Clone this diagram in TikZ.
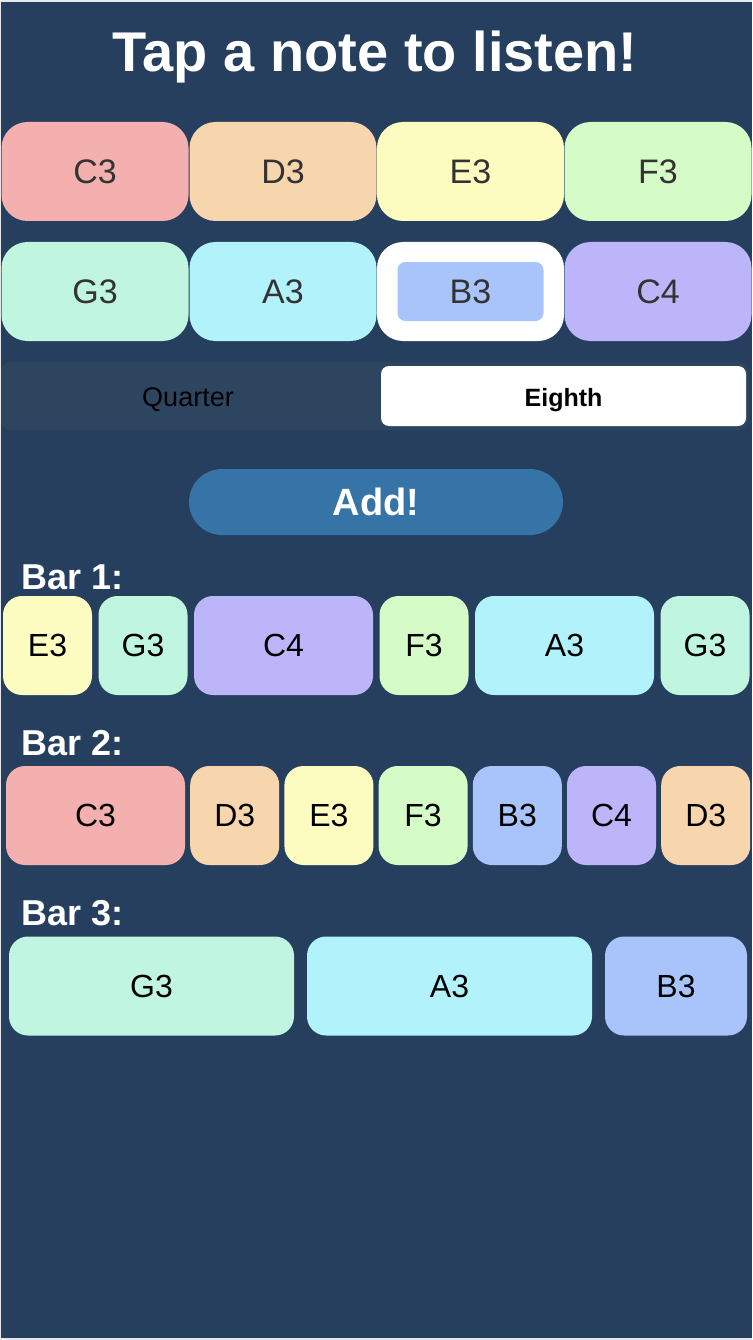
\documentclass[tikz,border=0pt]{standalone}
\usepackage{fontspec}
\setmainfont{Liberation Sans}
\usetikzlibrary{positioning}

\definecolor{bg}{HTML}{263F5E}
\definecolor{bgedge}{HTML}{E6E8EC}
\definecolor{segbg}{HTML}{2E4560}
\definecolor{addbtn}{HTML}{3673A7}
\definecolor{keytext}{HTML}{333333}
\definecolor{colC3}{HTML}{F4AFAF}
\definecolor{colD3}{HTML}{F7D6AE}
\definecolor{colE3}{HTML}{FDFCC0}
\definecolor{colF3}{HTML}{D5FCC6}
\definecolor{colG3}{HTML}{C0F5E0}
\definecolor{colA3}{HTML}{B2F2FB}
\definecolor{colB3}{HTML}{A9C4FB}
\definecolor{colC4}{HTML}{BCB5FA}

\begin{document}
\begin{tikzpicture}[x=1pt, y=-1pt, node distance=6.5pt,
	keybtn/.style={rectangle, rounded corners=26pt, minimum width=187pt, minimum height=99pt, inner sep=0pt, outer sep=0pt, text=keytext, font=\fontsize{34}{34}\selectfont},
	note/.style={rectangle, rounded corners=19pt, minimum height=99pt, inner sep=0pt, outer sep=0pt, text=black, font=\fontsize{32}{32}\selectfont},
	eighth/.style={note, minimum width=89pt},
	quarter/.style={note, minimum width=179pt},
	barlabel/.style={anchor=base west, text=white, font=\bfseries\fontsize{36}{36}\selectfont}]

	\fill[bgedge] (0,0) rectangle (752,1340);
	\fill[bg] (1,2) rectangle (752,1338);

	\node[anchor=base, text=white, font=\bfseries\fontsize{56}{56}\selectfont] (title) at (375,72) {Tap a note to listen!};

	% note keys
	\node[keybtn, fill=colC3] (kC3) at (95,171.5) {C3};
	\node[keybtn, fill=colD3] (kD3) at (283,171.5) {D3};
	\node[keybtn, fill=colE3] (kE3) at (470.5,171.5) {E3};
	\node[keybtn, fill=colF3] (kF3) at (658,171.5) {F3};
	\node[keybtn, fill=colG3] (kG3) at (95,291.5) {G3};
	\node[keybtn, fill=colA3] (kA3) at (283,291.5) {A3};
	\node[keybtn, fill=white] (kB3) at (470.5,291.5) {};
	\node[keybtn, fill=colB3, rounded corners=8pt, minimum width=146pt, minimum height=59pt] (kB3in) at (kB3) {B3};
	\node[keybtn, fill=colC4] (kC4) at (658,291.5) {C4};

	% length switch
	\node[rectangle, rounded corners=10pt, fill=segbg, minimum width=748pt, minimum height=68pt] (seg) at (375,396) {};
	\node[rectangle, rounded corners=8pt, fill=white, minimum width=365pt, minimum height=60pt] (eighth) at (563.5,396) {};
	\node[anchor=base, font=\fontsize{27}{27}\selectfont, text=black] (quarterlbl) at (188,406) {Quarter};
	\node[anchor=base, font=\bfseries\fontsize{25}{25}\selectfont, text=black] (eighthlbl) at (eighth.center |- quarterlbl.base) {Eighth};

	\node[rectangle, rounded corners=33pt, fill=addbtn, minimum width=374pt, minimum height=66pt, text=white, font=\bfseries\fontsize{38}{38}\selectfont] (add) at (376,502) {Add!};

	% bar 1
	\node[barlabel] (bar1) at (18,589) {Bar 1:};
	\node[eighth, fill=colE3] (b1n1) at (47.5,645.5) {E3};
	\node[eighth, fill=colG3] (b1n2) [right=of b1n1] {G3};
	\node[quarter, fill=colC4] (b1n3) [right=of b1n2] {C4};
	\node[eighth, fill=colF3] (b1n4) [right=of b1n3] {F3};
	\node[quarter, fill=colA3] (b1n5) [right=of b1n4] {A3};
	\node[eighth, fill=colG3] (b1n6) [right=of b1n5] {G3};

	% bar 2
	\begin{scope}[node distance=5.2pt]
	\node[barlabel] (bar2) at (18,755) {Bar 2:};
	\node[quarter, fill=colC3] (b2n1) at (95.5,815.5) {C3};
	\node[eighth, fill=colD3] (b2n2) [right=of b2n1] {D3};
	\node[eighth, fill=colE3] (b2n3) [right=of b2n2] {E3};
	\node[eighth, fill=colF3] (b2n4) [right=of b2n3] {F3};
	\node[eighth, fill=colB3] (b2n5) [right=of b2n4] {B3};
	\node[eighth, fill=colC4] (b2n6) [right=of b2n5] {C4};
	\node[eighth, fill=colD3] (b2n7) [right=of b2n6] {D3};
	\end{scope}

	% bar 3
	\begin{scope}[node distance=13pt]
	\node[barlabel] (bar3) at (18,925) {Bar 3:};
	\node[note, minimum width=285pt, fill=colG3] (b3n1) at (151.5,986) {G3};
	\node[note, minimum width=285pt, fill=colA3] (b3n2) [right=of b3n1] {A3};
	\node[note, minimum width=142pt, fill=colB3] (b3n3) [right=of b3n2] {B3};
	\end{scope}
\end{tikzpicture}
\end{document}
